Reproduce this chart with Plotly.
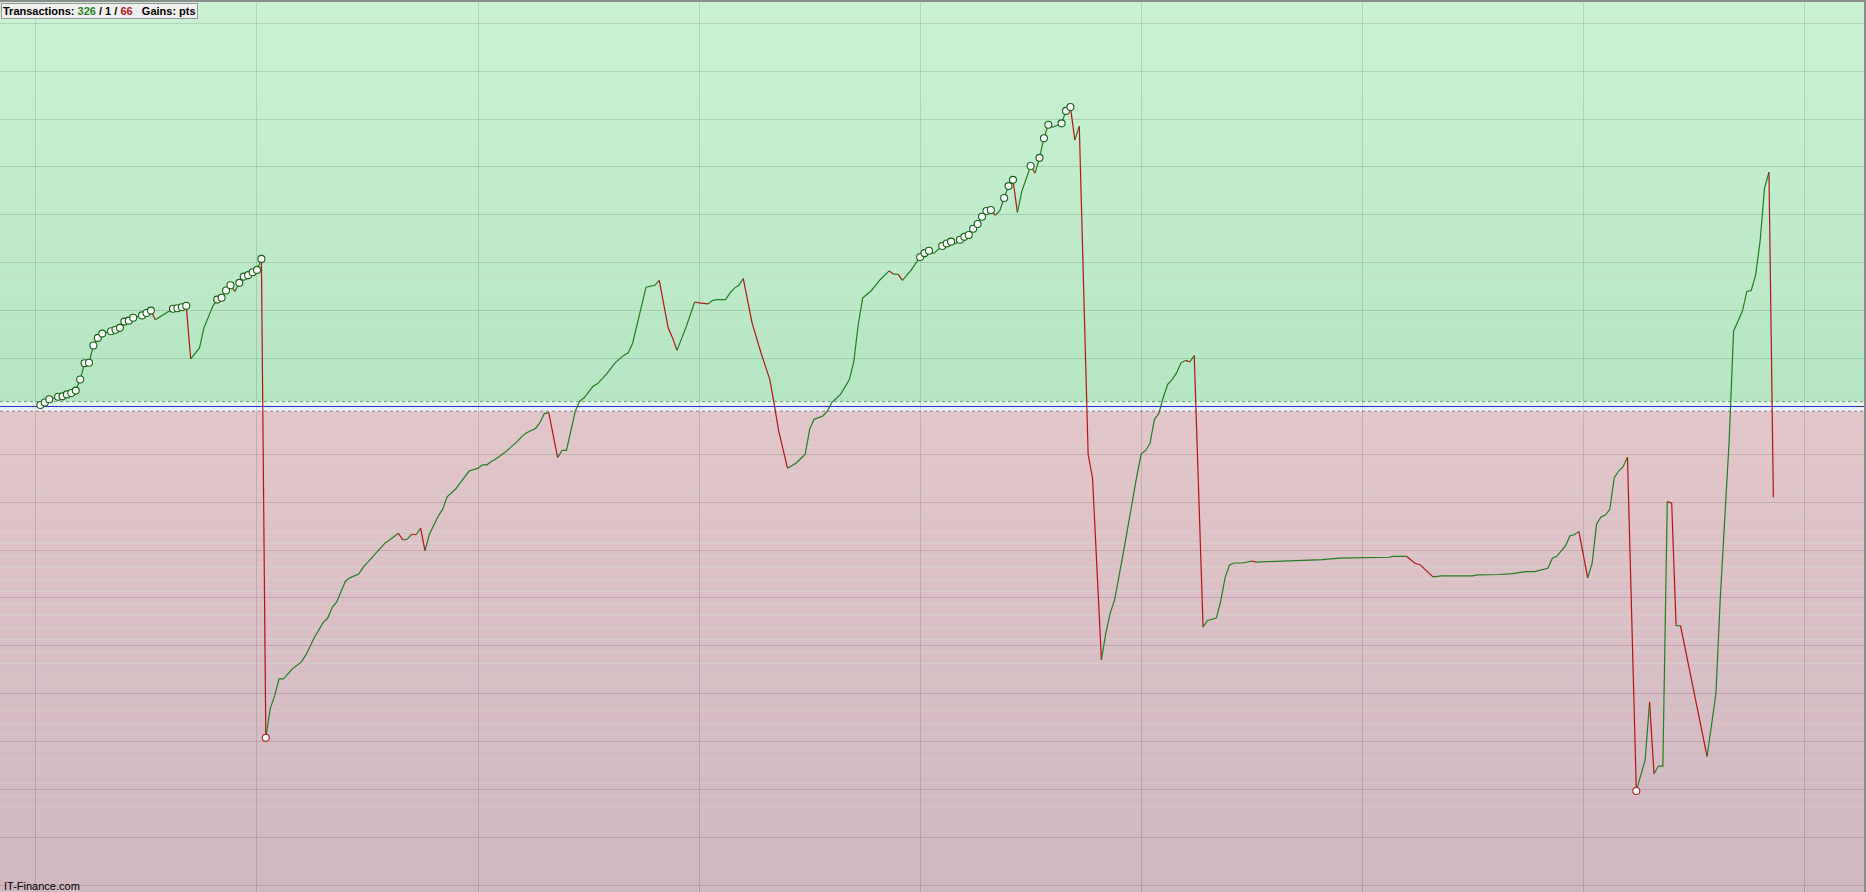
import plotly.graph_objects as go

# ---- data ----
trade_no = [1, 2, 3, 5, 6, 7, 8, 9, 10, 11, 12, 13, 14, 15, 17, 18, 19, 20, 21, 22, 24, 25, 26, 27, 29, 31, 32, 33, 34, 35,
            37, 38, 40, 41, 42, 43, 44, 45, 46, 47, 48, 49, 50, 51, 52,
            53, 54, 55, 56, 58, 60, 61, 63, 65, 66, 67, 68, 70, 71, 73, 74, 76, 77, 79, 80, 82, 83, 84, 85, 86, 87, 88, 89,
            91, 92, 93, 94, 95, 96, 98, 100, 101, 102, 103, 104, 106, 109, 110, 111, 113, 114, 115, 116, 118, 119, 120,
            121, 122, 123, 124, 126, 127, 129, 131, 133, 134, 135, 136, 138, 140, 141, 143, 144, 145, 147, 149, 150, 152,
            153, 154, 156, 157, 158, 159, 160, 162, 164, 166, 167, 168, 170, 172, 174, 175, 176, 178, 179, 180, 182, 184,
            185, 186, 187, 189, 191, 193, 194, 195, 196, 198, 200, 201, 202, 203, 205, 206, 207, 208, 209, 210, 211, 212,
            213, 214, 215, 216, 217, 218, 219, 220, 221, 222, 223, 225, 226, 227, 228, 229, 230, 232, 233, 234, 235, 236,
            238, 239, 241, 242, 243, 244, 246, 248, 249, 250, 251, 252, 253, 254, 255, 256, 257, 258, 259, 260, 261, 262,
            264, 265, 267, 268, 269, 270, 271, 273, 275, 276, 279, 280, 284, 285, 291, 295, 300, 301, 306, 307, 310, 312,
            313, 316, 318, 325, 326, 331, 334, 337, 339, 342, 343, 344, 345, 346, 347, 348, 349, 351, 352, 353, 354, 355,
            356, 357, 358, 359, 360, 362, 364, 365, 366, 367, 368, 369, 370, 371, 372, 378, 380, 381, 382, 383, 384, 386,
            387, 388, 389, 390, 391, 392, 393]
equity_pts = [3, 8, 15, 20, 21, 25, 28, 33, 56, 90, 91, 127, 143, 152, 157, 160, 164, 177, 179, 185, 190, 195, 200, 181, 192, 204, 205, 207, 210, 99,
              122, 164, 209, 223, 227, 242, 253, 240, 258, 271, 274, 280, 285, 308, -692,
              -631, -604, -569, -569, -548, -534, -520, -482, -451, -442, -420, -409, -365, -358, -350, -336, -315, -305, -285, -279, -265, -279, -277, -267, -268, -254, -301, -267,
              -229, -215, -189, -180, -172, -159, -135, -129, -122, -122, -115, -110, -97, -72, -62, -55, -46, -34, -15, -13, -107, -92, -92,
              -51, -10, 11, 18, 42, 47, 67, 91, 107, 112, 133, 174, 249, 253, 263, 164, 143, 117, 164, 218, 216, 214,
              221, 223, 223, 237, 247, 253, 267, 174, 112, 56, 4, -51, -129, -118, -100, -48, -27, -20, -10, 8, 25, 56,
              94, 171, 226, 242, 265, 283, 276, 276, 263, 285, 312, 320, 325, 319, 335, 340, 344, 339, 348, 354, 358, 371,
              381, 396, 408, 410, 399, 408, 435, 460, 473, 405, 449, 502, 487, 519, 560, 588, 583, 591, 617, 625, 556, 585,
              -100, -150, -529, -474, -431, -404, -304, -196, -146, -99, -92, -77, -27, -15, 19, 46, 56, 70, 91, 96, 93, 106,
              -461, -447, -442, -406, -357, -331, -327, -327, -323, -325, -324, -323, -322, -321, -320, -317, -316, -315, -315, -313, -313, -328,
              -330, -356, -354, -354, -352, -351, -349, -345, -345, -338, -317, -313, -303, -291, -270, -268, -261, -358, -328, -246, -231, -227,
              -215, -149, -135, -126, -106, -803, -738, -617, -767, -751, -751, -199, -202, -458, -458, -731, -600, -399, -225, -72, 157, 199,
              240, 242, 275, 345, 456, 489, -190]

wins, evens, losses = 326, 1, 66
gains_unit = "pts"
site_label = "IT-Finance.com"

# ---- styles ----
GREEN = "rgb(35,125,35)"
RED = "rgb(180,20,20)"
Y_MIN, Y_MAX = -1014, 844.4
X_MIN, X_MAX = -8.13, 413.5
BAND = 10

fig = go.Figure()

# per-segment colouring: rising = green, falling = red (runs of same direction)
n = len(trade_no)
runs = []
cur_col = None
cur_x, cur_y = [], []
for k in range(1, n):
    col = GREEN if equity_pts[k] >= equity_pts[k - 1] else RED
    if col != cur_col:
        if cur_col is not None:
            runs.append((cur_col, cur_x, cur_y))
        cur_col = col
        cur_x = [trade_no[k - 1]]
        cur_y = [equity_pts[k - 1]]
    cur_x.append(trade_no[k])
    cur_y.append(equity_pts[k])
runs.append((cur_col, cur_x, cur_y))

for col, xs, ys in runs:
    fig.add_trace(go.Scatter(x=xs, y=ys, mode="lines", line=dict(color=col, width=1.2),
                             hoverinfo="skip", showlegend=False))

# markers at new highs (green) and new lows (red)
hi_x, hi_y, lo_x, lo_y = [], [], [], []
run_max, run_min = 0, 0
for x, y in zip(trade_no, equity_pts):
    if y > run_max:
        hi_x.append(x); hi_y.append(y); run_max = y
    if y < run_min:
        lo_x.append(x); lo_y.append(y); run_min = y

fig.add_trace(go.Scatter(x=hi_x, y=hi_y, mode="markers",
                         marker=dict(size=7, color="white", line=dict(color="rgb(20,100,20)", width=1.1)),
                         hoverinfo="skip", showlegend=False))
fig.add_trace(go.Scatter(x=lo_x, y=lo_y, mode="markers",
                         marker=dict(size=7, color="white", line=dict(color="rgb(190,25,25)", width=1.1)),
                         hoverinfo="skip", showlegend=False))

# background gradient bands
shapes = []
def lerp(c1, c2, t):
    return tuple(round(a + (b - a) * t) for a, b in zip(c1, c2))

NB = 40
g_top, g_bot = (203, 243, 211), (182, 229, 195)
p_top, p_bot = (226, 198, 202), (208, 183, 193)
for i in range(NB):
    y0 = Y_MAX - (Y_MAX - BAND) * i / NB
    y1 = Y_MAX - (Y_MAX - BAND) * (i + 1) / NB
    c = lerp(g_top, g_bot, (i + 0.5) / NB)
    shapes.append(dict(type="rect", xref="paper", yref="y", x0=0, x1=1, y0=y1, y1=y0,
                       fillcolor="rgb(%d,%d,%d)" % c, line=dict(width=0), layer="below"))
    y0 = -BAND - (-BAND - Y_MIN) * i / NB
    y1 = -BAND - (-BAND - Y_MIN) * (i + 1) / NB
    c = lerp(p_top, p_bot, (i + 0.5) / NB)
    shapes.append(dict(type="rect", xref="paper", yref="y", x0=0, x1=1, y0=y1, y1=y0,
                       fillcolor="rgb(%d,%d,%d)" % c, line=dict(width=0), layer="below"))
shapes.append(dict(type="rect", xref="paper", yref="y", x0=0, x1=1, y0=0, y1=BAND,
                   fillcolor="rgb(228,245,234)", line=dict(width=0), layer="below"))
shapes.append(dict(type="rect", xref="paper", yref="y", x0=0, x1=1, y0=-BAND, y1=0,
                   fillcolor="rgb(236,238,245)", line=dict(width=0), layer="below"))
shapes.append(dict(type="line", xref="paper", yref="y", x0=0, x1=1, y0=BAND, y1=BAND,
                   line=dict(color="rgba(110,140,115,0.9)", width=1, dash="3px,3px"), layer="between"))
shapes.append(dict(type="line", xref="paper", yref="y", x0=0, x1=1, y0=-BAND, y1=-BAND,
                   line=dict(color="rgba(140,110,115,0.9)", width=1, dash="3px,3px"), layer="between"))

legend_text = ("Transactions: <span style='color:rgb(40,135,40)'>%d</span> / %d / "
               "<span style='color:rgb(190,25,25)'>%d</span>\u00a0\u00a0\u00a0Gains: %s"
               % (wins, evens, losses, gains_unit))

fig.update_layout(
    width=1866, height=892,
    margin=dict(l=0, r=0, t=0, b=0),
    paper_bgcolor="rgb(203,243,211)",
    plot_bgcolor="rgb(203,243,211)",
    shapes=shapes,
    xaxis=dict(range=[X_MIN, X_MAX], tick0=0, dtick=50, showgrid=True,
               gridcolor="rgba(0,0,0,0.12)", gridwidth=1, zeroline=False,
               showticklabels=False, ticks="", showline=True, mirror=True,
               linecolor="rgb(140,140,140)", linewidth=2),
    yaxis=dict(range=[Y_MIN, Y_MAX], tick0=0, dtick=100, showgrid=True,
               gridcolor="rgba(0,0,0,0.12)", gridwidth=1, zeroline=True,
               zerolinecolor="rgb(40,50,200)", zerolinewidth=1,
               showticklabels=False, ticks="", showline=True, mirror=True,
               linecolor="rgb(140,140,140)", linewidth=2),
    annotations=[
        dict(xref="paper", yref="paper", x=0, y=1, xanchor="left", yanchor="top",
             xshift=1, yshift=-1, text=legend_text, showarrow=False, align="left",
             font=dict(family="Liberation Sans", size=11, color="black", weight="bold"),
             bgcolor="rgb(240,240,240)", bordercolor="rgb(150,150,150)", borderwidth=1, borderpad=1),
        dict(xref="paper", yref="paper", x=0, y=0, xanchor="left", yanchor="bottom",
             xshift=2, yshift=-2, text=site_label, showarrow=False,
             font=dict(family="Liberation Sans", size=11, color="black")),
    ],
)

fig.write_html("out.html", config={"displayModeBar": False},
               post_script="document.body.style.margin='0';document.body.style.overflow='hidden';")
